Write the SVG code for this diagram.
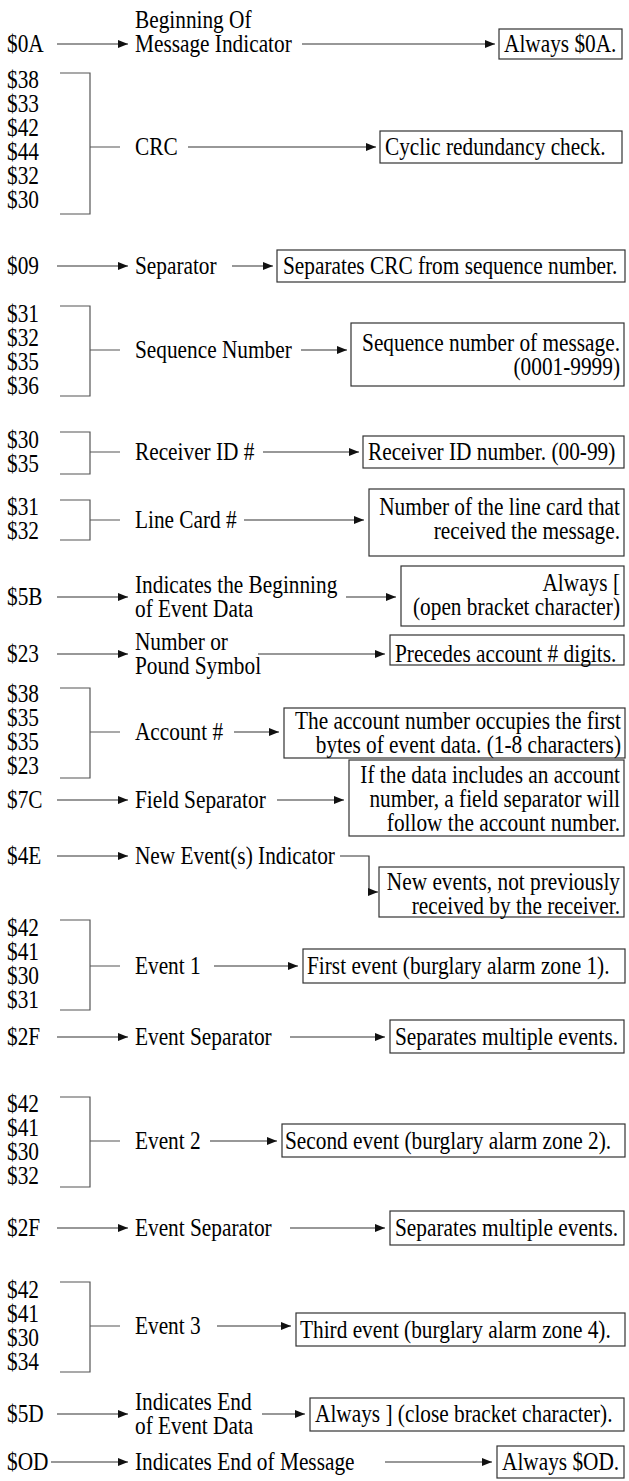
<svg xmlns="http://www.w3.org/2000/svg" width="629" height="1481" viewBox="0 0 629 1481">
<style>
text{font-family:"Liberation Serif","Times New Roman",serif;font-size:24.5px;fill:#000}
.e{text-anchor:end}
.ln{stroke:#555;stroke-width:1.2;fill:none}
.ar{stroke:#333;stroke-width:1.2;fill:none;marker-end:url(#ah)}
.bx{fill:#fff;stroke:#333;stroke-width:1.2}
</style>
<defs>
<marker id="ah" markerUnits="userSpaceOnUse" markerWidth="10" markerHeight="8" refX="10" refY="4" orient="auto"><path d="M0,0 L10,4 L0,8 z" fill="#111"/></marker>
</defs>
<rect width="629" height="1481" fill="#fff"/>
<g id="connectors">
<line class="ar" x1="57" y1="44" x2="128" y2="44"/>
<line class="ar" x1="302" y1="44" x2="495" y2="44"/>
<path class="ln" d="M60,73 H90 V214 H60 M90,147 H120"/>
<line class="ar" x1="188" y1="147" x2="376" y2="147"/>
<line class="ar" x1="57" y1="266" x2="128" y2="266"/>
<line class="ar" x1="232" y1="266" x2="273" y2="266"/>
<path class="ln" d="M60,306 H90 V396 H60 M90,350 H120"/>
<line class="ar" x1="301" y1="350" x2="347" y2="350"/>
<path class="ln" d="M60,432 H90 V474 H60 M90,452 H120"/>
<line class="ar" x1="263" y1="452" x2="359" y2="452"/>
<path class="ln" d="M60,500 H90 V540 H60 M90,520 H120"/>
<line class="ar" x1="244" y1="520" x2="364" y2="520"/>
<line class="ar" x1="57" y1="597" x2="128" y2="597"/>
<line class="ar" x1="346" y1="597" x2="396" y2="597"/>
<line class="ar" x1="57" y1="654" x2="128" y2="654"/>
<line class="ar" x1="258" y1="654" x2="385" y2="654"/>
<path class="ln" d="M60,688 H90 V778 H60 M90,732 H120"/>
<line class="ar" x1="234" y1="732" x2="279" y2="732"/>
<line class="ar" x1="57" y1="800" x2="128" y2="800"/>
<line class="ar" x1="277" y1="800" x2="344" y2="800"/>
<line class="ar" x1="57" y1="856" x2="128" y2="856"/>
<path class="ar" d="M340,856 H369 V892 H378"/>
<path class="ln" d="M60,920 H90 V1010 H60 M90,966 H120"/>
<line class="ar" x1="214" y1="966" x2="298" y2="966"/>
<line class="ar" x1="57" y1="1037" x2="128" y2="1037"/>
<line class="ar" x1="290" y1="1037" x2="385" y2="1037"/>
<path class="ln" d="M60,1097 H90 V1187 H60 M90,1141 H120"/>
<line class="ar" x1="210" y1="1141" x2="277" y2="1141"/>
<line class="ar" x1="57" y1="1228" x2="128" y2="1228"/>
<line class="ar" x1="290" y1="1228" x2="385" y2="1228"/>
<path class="ln" d="M60,1282 H90 V1372 H60 M90,1326 H120"/>
<line class="ar" x1="217" y1="1326" x2="291" y2="1326"/>
<line class="ar" x1="57" y1="1414" x2="128" y2="1414"/>
<line class="ar" x1="262" y1="1414" x2="305" y2="1414"/>
<line class="ar" x1="51" y1="1462" x2="128" y2="1462"/>
<line class="ar" x1="385" y1="1462" x2="492" y2="1462"/>
</g>
<g id="r1">
<rect class="bx" x="499" y="29" width="123" height="30"/>
<g transform="scale(0.87 1)">
<text x="8.05" y="52">$0A</text>
<text x="155.17" y="28">Beginning Of</text>
<text x="155.17" y="52">Message Indicator</text>
<text x="579.31" y="52">Always $0A.</text>
</g>
</g>
<g id="r2">
<rect class="bx" x="380" y="131" width="242" height="32"/>
<g transform="scale(0.87 1)">
<text x="8.05" y="88">$38</text><text x="8.05" y="112">$33</text><text x="8.05" y="136">$42</text>
<text x="8.05" y="160">$44</text><text x="8.05" y="184">$32</text><text x="8.05" y="208">$30</text>
<text x="155.17" y="155">CRC</text>
<text x="442.53" y="155">Cyclic redundancy check.</text>
</g>
</g>
<g id="r3">
<rect class="bx" x="277" y="250" width="348" height="32"/>
<g transform="scale(0.87 1)">
<text x="8.05" y="274">$09</text>
<text x="155.17" y="274">Separator</text>
<text x="325.29" y="274">Separates CRC from sequence number.</text>
</g>
</g>
<g id="r4">
<rect class="bx" x="351" y="323" width="273" height="63"/>
<g transform="scale(0.87 1)">
<text x="8.05" y="322">$31</text><text x="8.05" y="346">$32</text><text x="8.05" y="370">$35</text><text x="8.05" y="394">$36</text>
<text x="155.17" y="358">Sequence Number</text>
<text class="e" x="712.64" y="351">Sequence number of message.</text>
<text class="e" x="712.64" y="375">(0001-9999)</text>
</g>
</g>
<g id="r5">
<rect class="bx" x="363" y="436" width="261" height="32"/>
<g transform="scale(0.87 1)">
<text x="8.05" y="448">$30</text><text x="8.05" y="472">$35</text>
<text x="155.17" y="460">Receiver ID #</text>
<text x="422.99" y="460">Receiver ID number. (00-99)</text>
</g>
</g>
<g id="r6">
<rect class="bx" x="369" y="489" width="255" height="67"/>
<g transform="scale(0.87 1)">
<text x="8.05" y="515">$31</text><text x="8.05" y="539">$32</text>
<text x="155.17" y="528">Line Card #</text>
<text class="e" x="712.64" y="515">Number of the line card that</text>
<text class="e" x="712.64" y="539">received the message.</text>
</g>
</g>
<g id="r7">
<rect class="bx" x="401" y="566" width="223" height="60"/>
<g transform="scale(0.87 1)">
<text x="8.05" y="605">$5B</text>
<text x="155.17" y="593">Indicates the Beginning</text>
<text x="155.17" y="617">of Event Data</text>
<text class="e" x="712.64" y="591">Always [</text>
<text class="e" x="712.64" y="615">(open bracket character)</text>
</g>
</g>
<g id="r8">
<rect class="bx" x="390" y="635" width="234" height="30"/>
<g transform="scale(0.87 1)">
<text x="8.05" y="662">$23</text>
<text x="155.17" y="650">Number or</text>
<text x="155.17" y="674">Pound Symbol</text>
<text x="454.02" y="662">Precedes account # digits.</text>
</g>
</g>
<g id="r9">
<rect class="bx" x="284" y="708" width="341" height="50"/>
<g transform="scale(0.87 1)">
<text x="8.05" y="702">$38</text><text x="8.05" y="726">$35</text><text x="8.05" y="750">$35</text><text x="8.05" y="774">$23</text>
<text x="155.17" y="740">Account #</text>
<text class="e" x="713.79" y="729">The account number occupies the first</text>
<text class="e" x="713.79" y="753">bytes of event data. (1-8 characters)</text>
</g>
</g>
<g id="r10">
<rect class="bx" x="349" y="760" width="275" height="76"/>
<g transform="scale(0.87 1)">
<text x="8.05" y="808">$7C</text>
<text x="155.17" y="808">Field Separator</text>
<text class="e" x="712.64" y="783">If the data includes an account</text>
<text class="e" x="712.64" y="807">number, a field separator will</text>
<text class="e" x="712.64" y="831">follow the account number.</text>
</g>
</g>
<g id="r11">
<rect class="bx" x="379" y="867" width="245" height="50"/>
<g transform="scale(0.87 1)">
<text x="8.05" y="864">$4E</text>
<text x="155.17" y="864">New Event(s) Indicator</text>
<text class="e" x="712.64" y="890">New events, not previously</text>
<text class="e" x="712.64" y="914">received by the receiver.</text>
</g>
</g>
<g id="r12">
<rect class="bx" x="303" y="949" width="322" height="34"/>
<g transform="scale(0.87 1)">
<text x="8.05" y="936">$42</text><text x="8.05" y="960">$41</text><text x="8.05" y="984">$30</text><text x="8.05" y="1008">$31</text>
<text x="155.17" y="974">Event 1</text>
<text x="352.87" y="974">First event (burglary alarm zone 1).</text>
</g>
</g>
<g id="r13">
<rect class="bx" x="390" y="1020" width="234" height="33"/>
<g transform="scale(0.87 1)">
<text x="8.05" y="1045">$2F</text>
<text x="155.17" y="1045">Event Separator</text>
<text x="454.02" y="1045">Separates multiple events.</text>
</g>
</g>
<g id="r14">
<rect class="bx" x="282" y="1124" width="343" height="33"/>
<g transform="scale(0.87 1)">
<text x="8.05" y="1112">$42</text><text x="8.05" y="1136">$41</text><text x="8.05" y="1160">$30</text><text x="8.05" y="1184">$32</text>
<text x="155.17" y="1149">Event 2</text>
<text x="327.59" y="1149">Second event (burglary alarm zone 2).</text>
</g>
</g>
<g id="r15">
<rect class="bx" x="390" y="1211" width="234" height="34"/>
<g transform="scale(0.87 1)">
<text x="8.05" y="1236">$2F</text>
<text x="155.17" y="1236">Event Separator</text>
<text x="454.02" y="1236">Separates multiple events.</text>
</g>
</g>
<g id="r16">
<rect class="bx" x="296" y="1313" width="329" height="33"/>
<g transform="scale(0.87 1)">
<text x="8.05" y="1298">$42</text><text x="8.05" y="1322">$41</text><text x="8.05" y="1346">$30</text><text x="8.05" y="1370">$34</text>
<text x="155.17" y="1334">Event 3</text>
<text x="344.83" y="1338">Third event (burglary alarm zone 4).</text>
</g>
</g>
<g id="r17">
<rect class="bx" x="310" y="1398" width="314" height="33"/>
<g transform="scale(0.87 1)">
<text x="8.05" y="1422">$5D</text>
<text x="155.17" y="1410">Indicates End</text>
<text x="155.17" y="1434">of Event Data</text>
<text x="362.07" y="1422">Always ] (close bracket character).</text>
</g>
</g>
<g id="r18">
<rect class="bx" x="497" y="1446" width="127" height="32"/>
<g transform="scale(0.87 1)">
<text x="8.05" y="1470">$OD</text>
<text x="155.17" y="1470">Indicates End of Message</text>
<text x="577.01" y="1470">Always $OD.</text>
</g>
</g>
</svg>
